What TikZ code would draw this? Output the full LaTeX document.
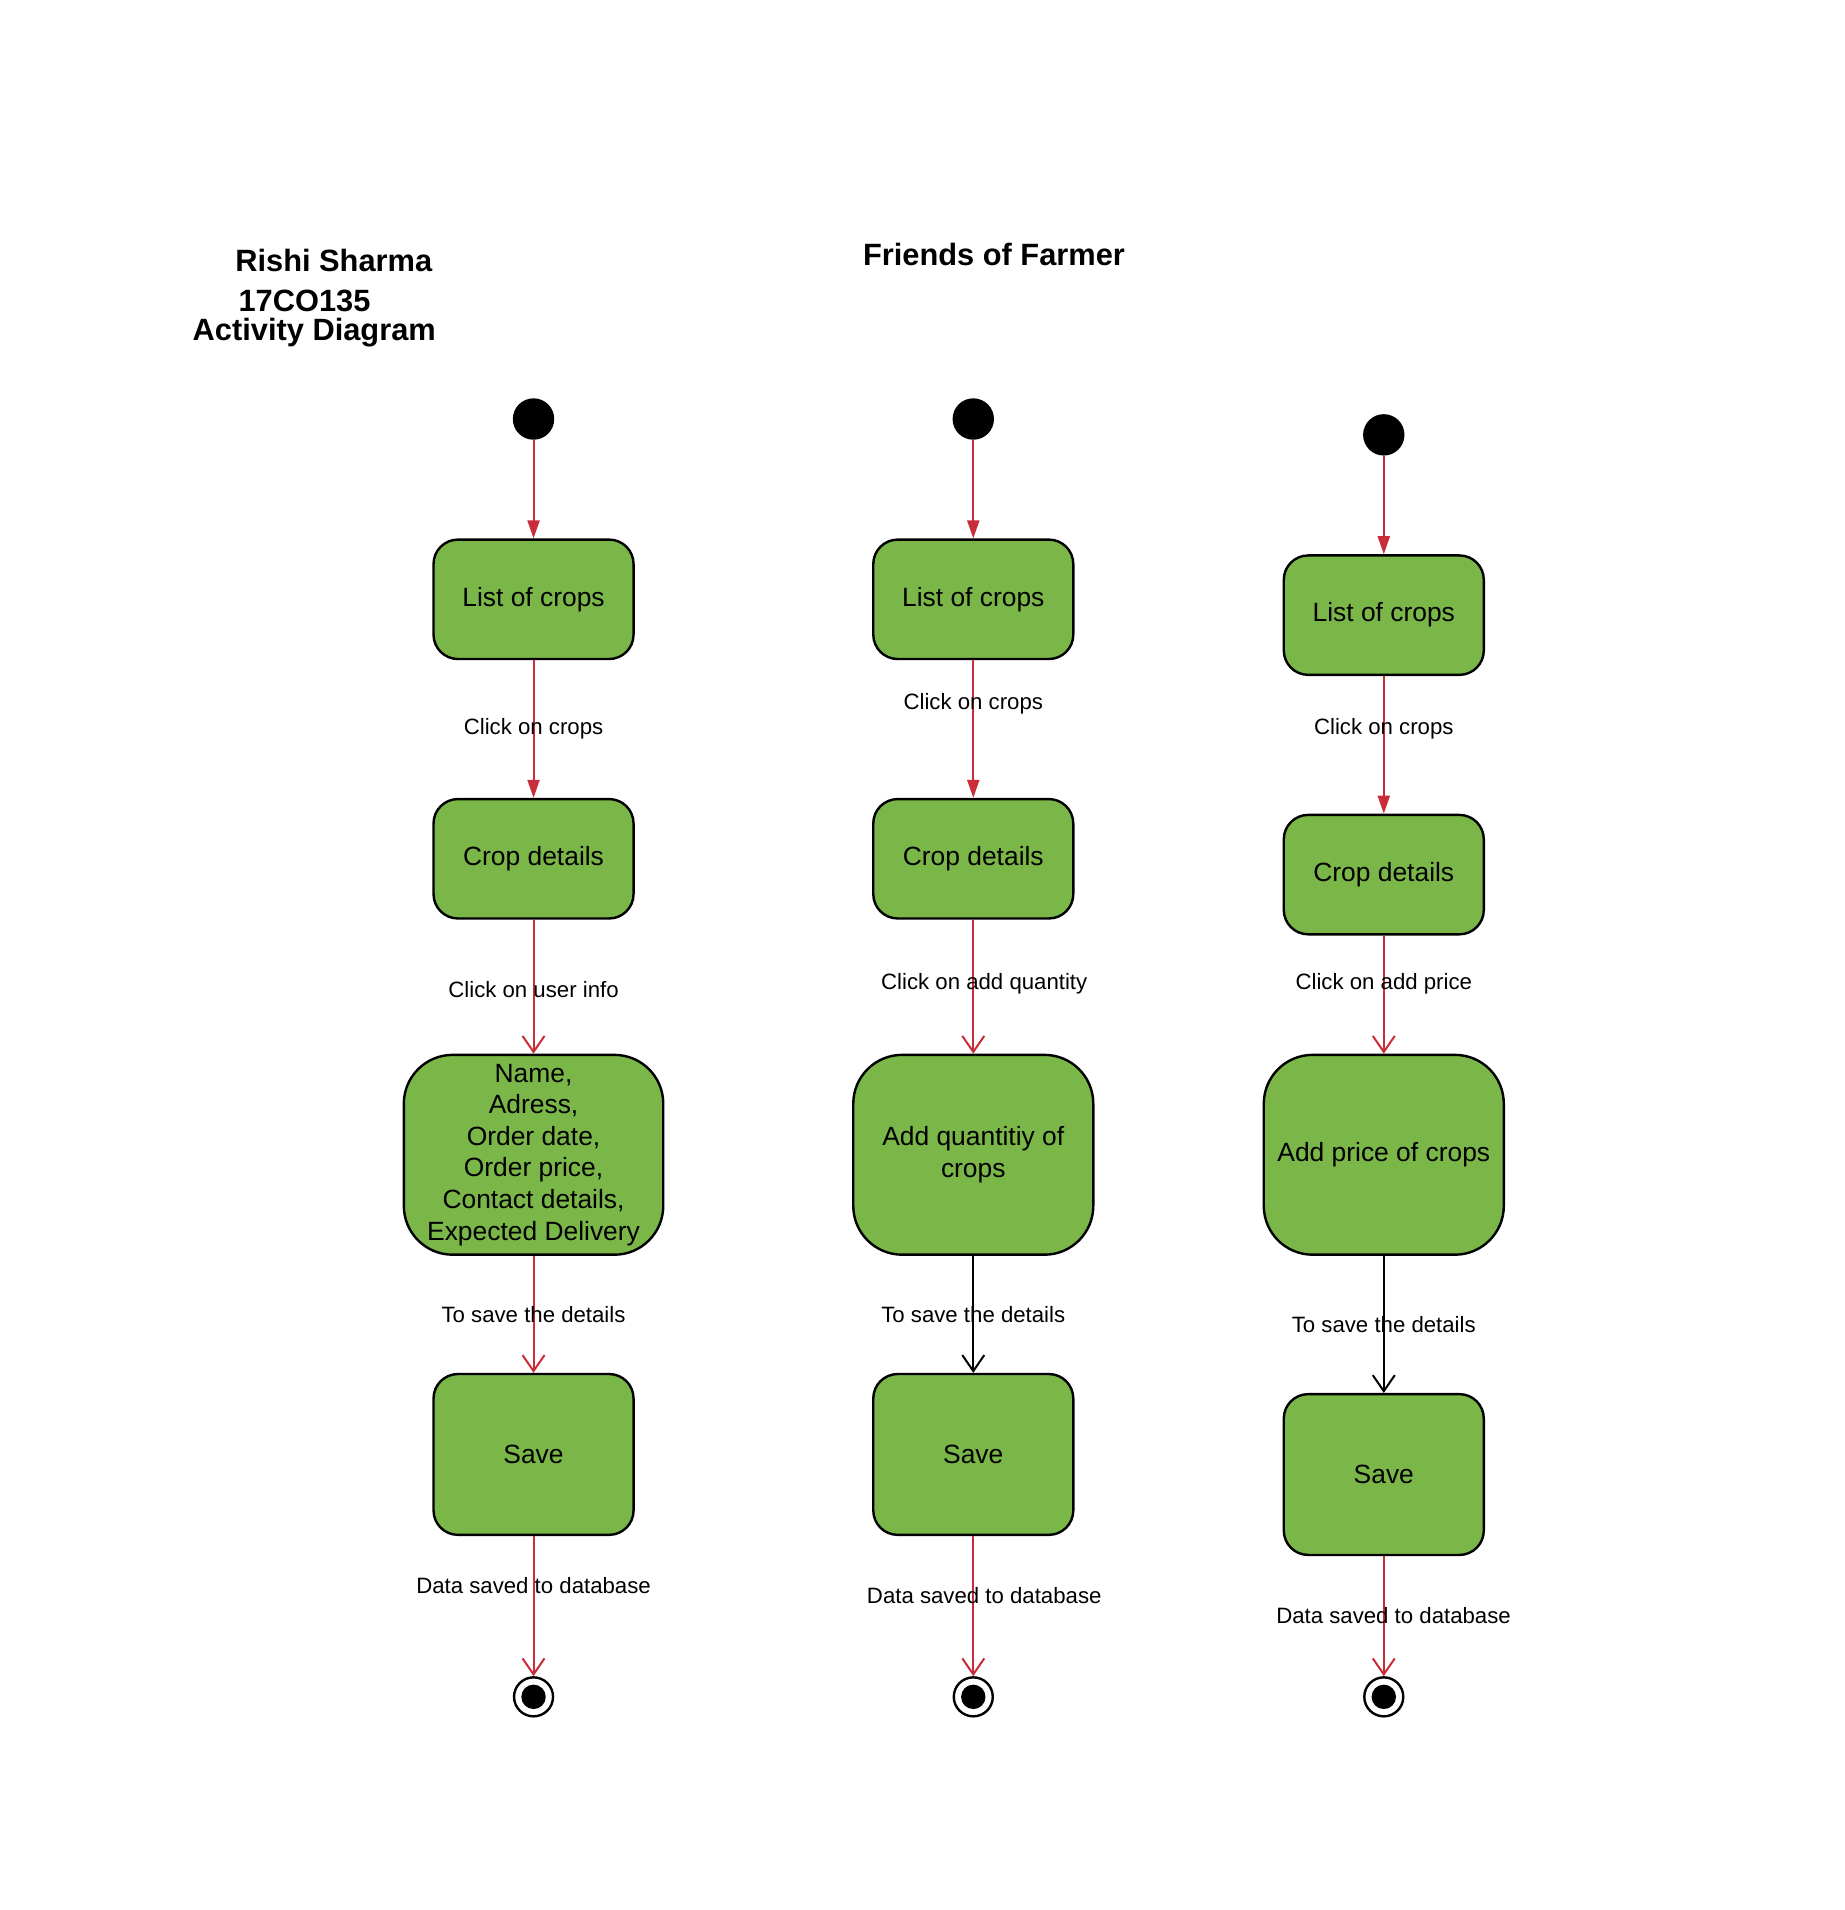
\documentclass[tikz,border=0pt]{standalone}
\usepackage{fontspec}
\setmainfont{Liberation Sans}
\usetikzlibrary{arrows.meta}
\definecolor{boxgreen}{HTML}{7AB648}
\definecolor{linered}{HTML}{C92D39}
\tikzset{
  act/.style={draw=black, line width=1.2pt, fill=boxgreen, rounded corners=12.2pt,
    minimum width=100pt, minimum height=59.7pt, inner sep=2pt, align=center,
    font=\fontsize{13.2}{15.8}\selectfont},
  bigact/.style={act, rounded corners=24.4pt, minimum height=99.9pt},
  startnode/.style={circle, fill=black, minimum size=20.7pt, inner sep=0pt},
  endnode/.style={circle, draw=black, line width=1.2pt, fill=white, minimum size=19.5pt, inner sep=0pt,
    path picture={\fill[black] (path picture bounding box.center) circle (6.1pt);}},
  lbl/.style={font=\fontsize{11.1}{13.2}\selectfont, inner sep=0pt},
  ttl/.style={font=\bfseries\fontsize{15.4}{18.4}\selectfont, inner sep=0pt},
  flowfill/.style={draw=linered, line width=1pt, -{Triangle[width=6pt,length=9pt]}},
  flowopen/.style={draw=linered, line width=1pt, -{Straight Barb[width=11pt,length=8pt,line width=1pt]}},
  flowblack/.style={draw=black, line width=1pt, -{Straight Barb[width=11pt,length=8pt,line width=1pt]}},
}
\begin{document}
\begin{tikzpicture}[x=0.609pt,y=-0.609pt]
\useasboundingbox (0,0) rectangle (1514,1568);
% titles
\node[ttl] (t1) at (274,214) {Rishi Sharma};
\node[ttl] (t2) at (250,247) {17CO135};
\node[ttl] (t3) at (258,273) {Activity Diagram};
\node[ttl] (t4) at (816,209) {Friends of Farmer};

% column 1
\node[startnode] (s1) at (438,344) {};
\node[act] (l1) at (438,492) {List of crops};
\node[act] (c1) at (438,705) {Crop details};
\node[bigact, minimum width=129.7pt] (n1) at (438,948) {Name,\\Adress,\\Order date,\\Order price,\\Contact details,\\Expected Delivery};
\node[act, minimum height=80.4pt] (v1) at (438,1194) {Save};
\node[endnode] (e1) at (438,1393) {};
\draw[flowfill] (s1) -- (l1);
\draw[flowfill] (l1) -- (c1);
\draw[flowopen] (c1) -- (n1);
\draw[flowopen] (n1) -- (v1);
\draw[flowopen] (v1) -- (e1);
\node[lbl] (a1) at (438,598) {Click on crops};
\node[lbl] (b1) at (438,812) {Click on user info};
\node[lbl] (d1) at (438,1079) {To save the details};
\node[lbl] (f1) at (438,1302) {Data saved to database};

% column 2
\node[startnode] (s2) at (799,344) {};
\node[act] (l2) at (799,492) {List of crops};
\node[act] (c2) at (799,705) {Crop details};
\node[bigact, minimum width=120pt] (n2) at (799,948) {Add quantitiy of\\crops};
\node[act, minimum height=80.4pt] (v2) at (799,1194) {Save};
\node[endnode] (e2) at (799,1393) {};
\draw[flowfill] (s2) -- (l2);
\draw[flowfill] (l2) -- (c2);
\draw[flowopen] (c2) -- (n2);
\draw[flowblack] (n2) -- (v2);
\draw[flowopen] (v2) -- (e2);
\node[lbl] (a2) at (799,578) {Click on crops};
\node[lbl] (b2) at (808,808) {Click on add quantity};
\node[lbl] (d2) at (799,1079) {To save the details};
\node[lbl] (f2) at (808,1310) {Data saved to database};

% column 3
\node[startnode] (s3) at (1136,357) {};
\node[act] (l3) at (1136,505) {List of crops};
\node[act] (c3) at (1136,718) {Crop details};
\node[bigact, minimum width=120pt] (n3) at (1136,948) {Add price of crops};
\node[act, minimum height=80.4pt] (v3) at (1136,1210.5) {Save};
\node[endnode] (e3) at (1136,1393) {};
\draw[flowfill] (s3) -- (l3);
\draw[flowfill] (l3) -- (c3);
\draw[flowopen] (c3) -- (n3);
\draw[flowblack] (n3) -- (v3);
\draw[flowopen] (v3) -- (e3);
\node[lbl] (a3) at (1136,598) {Click on crops};
\node[lbl] (b3) at (1136,808) {Click on add price};
\node[lbl] (d3) at (1136,1087) {To save the details};
\node[lbl] (f3) at (1144,1326) {Data saved to database};
\end{tikzpicture}
\end{document}
